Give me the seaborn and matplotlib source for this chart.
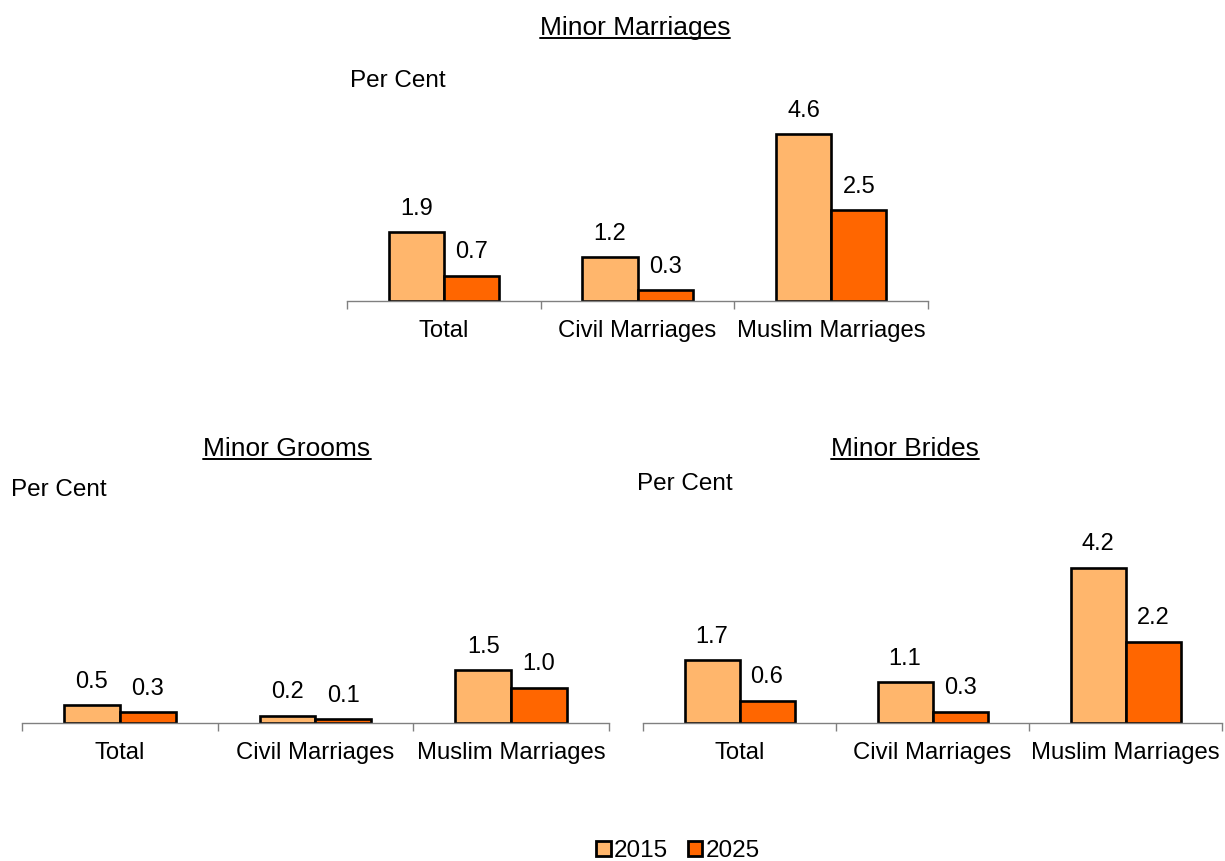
import pandas as pd
import matplotlib.pyplot as plt
import seaborn as sns
from matplotlib.lines import Line2D
from matplotlib.patches import Patch

sns.set_style('white')
plt.rcParams['font.family'] = ['Liberation Sans', 'DejaVu Sans']
plt.rcParams['text.color'] = 'black'
plt.rcParams['xtick.color'] = 'black'

# Data
categories = ['Total', 'Civil Marriages', 'Muslim Marriages']
years = ['2015', '2025']
marriages_2015 = [1.9, 1.2, 4.6]
marriages_2025 = [0.7, 0.3, 2.5]
grooms_2015 = [0.5, 0.2, 1.5]
grooms_2025 = [0.3, 0.1, 1.0]
brides_2015 = [1.7, 1.1, 4.2]
brides_2025 = [0.6, 0.3, 2.2]

colors = {'2015': '#FFB66C', '2025': '#FF6600'}


def to_frame(v2015, v2025):
    rows = []
    for cat, a, b in zip(categories, v2015, v2025):
        rows.append({'type': cat, 'year': '2015', 'value': a})
        rows.append({'type': cat, 'year': '2025', 'value': b})
    return pd.DataFrame(rows)


fig = plt.figure(figsize=(12.25, 8.61), dpi=100)

ax_top = fig.add_axes([0.2833, 0.6504, 0.4743, 0.2334])
ax_grm = fig.add_axes([0.018, 0.1603, 0.479, 0.2358])
ax_brd = fig.add_axes([0.5249, 0.1603, 0.4727, 0.2358])

for ax, d15, d25, ymax in [(ax_top, marriages_2015, marriages_2025, 5.54),
                           (ax_grm, grooms_2015, grooms_2025, 5.75),
                           (ax_brd, brides_2015, brides_2025, 5.5)]:
    sns.barplot(data=to_frame(d15, d25), x='type', y='value', hue='year',
                hue_order=years, palette=colors, width=0.57, edgecolor='black',
                linewidth=1.9, saturation=1, ax=ax, legend=False)
    for cont in ax.containers:
        ax.bar_label(cont, fmt='%.1f', padding=9, fontsize=17, color='black')
    ax.set_xlim(-0.5, 2.5)
    ax.set_ylim(0, ymax)
    ax.set_xlabel('')
    ax.set_ylabel('')
    ax.set_yticks([])
    for s in ['top', 'left', 'right']:
        ax.spines[s].set_visible(False)
    ax.spines['bottom'].set_color('#808080')
    ax.spines['bottom'].set_linewidth(1)
    ax.set_xticks([-0.5, 0.5, 1.5, 2.5], minor=True)
    ax.tick_params(axis='x', which='major', length=0, pad=14, labelsize=17.2,
                   labelcolor='black')
    ax.tick_params(axis='x', which='minor', length=6, width=1, color='#808080',
                   direction='out', bottom=True)

# Titles and unit labels
titles = [
    fig.text(635 / 1225, 1 - 28 / 861, 'Minor Marriages', ha='center', va='center', fontsize=19),
    fig.text(287 / 1225, 1 - 449 / 861, 'Minor Grooms', ha='center', va='center', fontsize=19),
    fig.text(905 / 1225, 1 - 449 / 861, 'Minor Brides', ha='center', va='center', fontsize=19),
]
fig.text(350 / 1225, 1 - 81 / 861, 'Per Cent', ha='left', va='center', fontsize=17.5)
fig.text(11 / 1225, 1 - 490 / 861, 'Per Cent', ha='left', va='center', fontsize=17.5)
fig.text(637 / 1225, 1 - 484 / 861, 'Per Cent', ha='left', va='center', fontsize=17.5)

# Underline titles
fig.canvas.draw()
renderer = fig.canvas.get_renderer()
for t in titles:
    bb = t.get_window_extent(renderer).transformed(fig.transFigure.inverted())
    y = bb.y0 + 0.002
    fig.add_artist(Line2D([bb.x0, bb.x1], [y, y], color='black', lw=1.4,
                          transform=fig.transFigure))

# Legend
handles = [Patch(facecolor=colors[y], edgecolor='black', linewidth=2, label=y) for y in years]
fig.legend(handles=handles, loc='center', bbox_to_anchor=(678 / 1225, 1 - 851 / 861),
           ncol=2, frameon=False, fontsize=17.5, handlelength=0.6, handleheight=0.6,
           handletextpad=0.15, columnspacing=0.8)

fig.savefig('out.png', dpi=100)
